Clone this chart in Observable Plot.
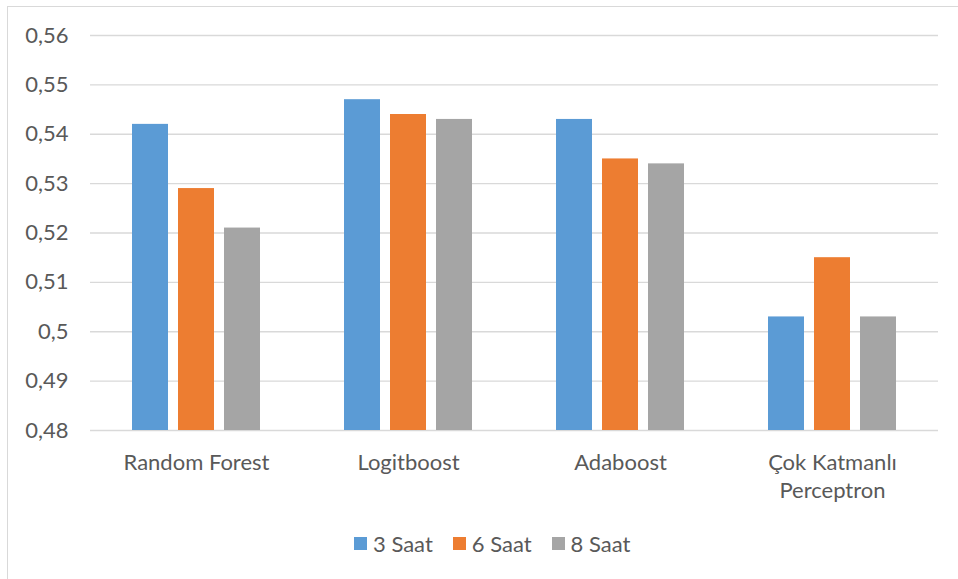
<!DOCTYPE html>
<html>
<head>
<meta charset="utf-8">
<script src="https://cdn.jsdelivr.net/npm/d3@7"></script>
<script src="https://cdn.jsdelivr.net/npm/@observablehq/plot@0.6"></script>
<style>
  html, body { margin: 0; padding: 0; background: #fff; }
  body { width: 958px; height: 579px; position: relative; overflow: hidden; font-family: Lato, "Open Sans", sans-serif; }
  #frame { position: absolute; left: 7px; top: 6px; width: 960px; height: 600px; border-left: 1.5px solid #d9d9d9; border-top: 1.5px solid #d9d9d9; }
  #chart { position: absolute; left: 0; top: 0; }
  #legend { position: absolute; left: 354px; top: 530px; display: flex; align-items: center; color: #595959; font-size: 22px; }
  .item { display: flex; align-items: center; margin-right: 20px; }
  .sw { width: 13px; height: 13px; margin-right: 6px; }
</style>
</head>
<body>
<div id="frame"></div>
<div id="chart"></div>
<div id="legend"></div>
<script>
const categories = ["Random Forest", "Logitboost", "Adaboost", "Çok Katmanlı\nPerceptron"];
const seriesNames = ["3 Saat", "6 Saat", "8 Saat"];
const colors = ["#5B9BD5", "#ED7D31", "#A5A5A5"];
const saat3 = [0.542, 0.547, 0.543, 0.503];
const saat6 = [0.529, 0.544, 0.535, 0.515];
const saat8 = [0.521, 0.543, 0.534, 0.503];
const yTicks = [0.48, 0.49, 0.50, 0.51, 0.52, 0.53, 0.54, 0.55, 0.56];

const seriesValues = [saat3, saat6, saat8];
const data = [];
categories.forEach((c, i) => {
  seriesNames.forEach((s, j) => data.push({category: c, series: s, value: seriesValues[j][i]}));
});

const fmt = d => String(+d.toFixed(2)).replace(".", ",");

const chart = Plot.plot({
  width: 958,
  height: 510,
  marginLeft: 90,
  marginRight: 20,
  marginTop: 35,
  marginBottom: 80,
  style: {fontFamily: "Lato, 'Open Sans', sans-serif", fontSize: "22px", color: "#595959", background: "transparent"},
  fx: {domain: categories, padding: 0, label: null},
  x: {domain: seriesNames, paddingInner: 0.213, paddingOuter: 0.862, axis: null},
  y: {domain: [0.48, 0.56], label: null},
  color: {domain: seriesNames, range: colors},
  marks: [
    Plot.ruleY(yTicks, {stroke: "#d9d9d9", strokeWidth: 1.3}),
    Plot.barY(data, {fx: "category", x: "series", y1: 0.48, y2: "value", fill: "series"}),
    Plot.axisY(yTicks, {tickSize: 0, tickPadding: 22, tickFormat: fmt, label: null, fontSize: 22, fill: "#595959"}),
    Plot.axisFx({anchor: "bottom", tickSize: 0, tickPadding: 20, label: null, fontSize: 22, fill: "#595959", lineHeight: 1.27})
  ]
});
document.getElementById("chart").appendChild(chart);

const legend = document.getElementById("legend");
seriesNames.forEach((s, i) => {
  const it = document.createElement("div");
  it.className = "item";
  const sw = document.createElement("div");
  sw.className = "sw";
  sw.style.background = colors[i];
  const t = document.createElement("span");
  t.textContent = s;
  it.appendChild(sw); it.appendChild(t);
  legend.appendChild(it);
});
</script>
</body>
</html>
